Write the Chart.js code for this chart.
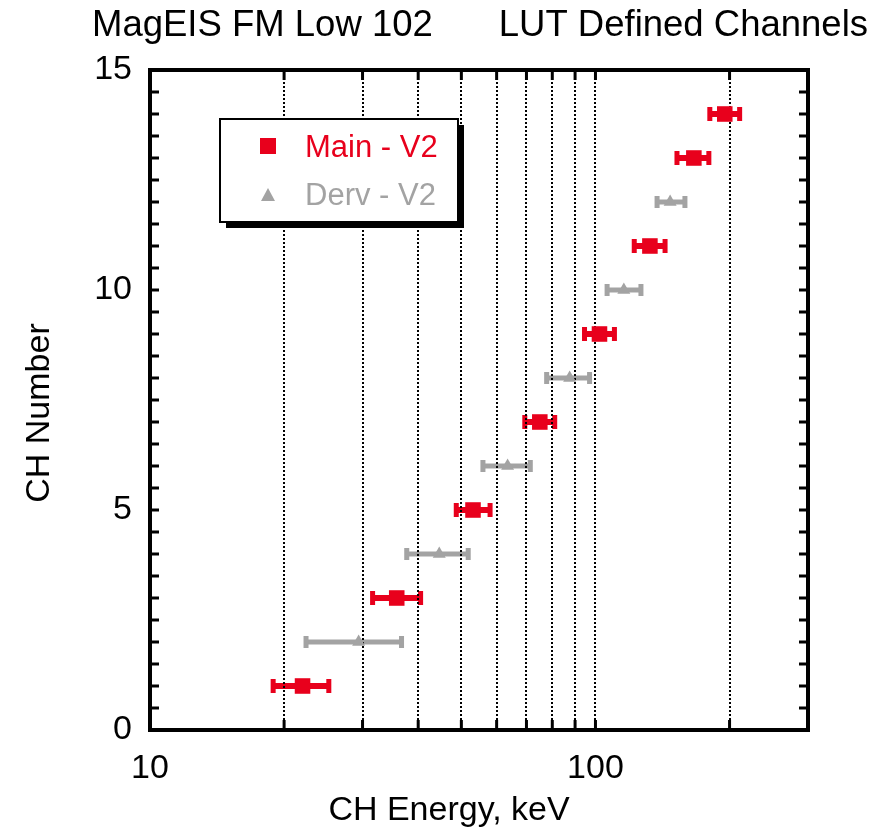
<!DOCTYPE html>
<html><head><meta charset="utf-8">
<script src="https://cdn.jsdelivr.net/npm/chart.js@4"></script>
<style>html,body{margin:0;padding:0;background:#fff}#wrap{width:893px;height:838px;position:relative}canvas{display:block}</style>
</head><body><div id="wrap"><canvas id="c" width="893" height="838" style="width:893px;height:838px"></canvas></div>
<script>
// ---- data ----
const titleLeft = 'MagEIS FM Low 102';
const titleRight = 'LUT Defined Channels';
const xTitle = 'CH Energy, keV';
const yTitle = 'CH Number';

const mainLabel = 'Main - V2';
const mainCh  = [1, 3, 5, 7, 9, 11, 13, 14];
const mainE   = [22.0, 35.8, 53.1, 75.0, 102.1, 132.5, 166.3, 195.1];
const mainLo  = [18.9, 31.6, 48.7, 69.4, 94.5, 122.2, 152.4, 180.6];
const mainHi  = [25.2, 40.5, 58.0, 81.0, 110.3, 143.3, 179.7, 210.7];

const dervLabel = 'Derv - V2';
const dervCh  = [2, 4, 6, 8, 10, 12];
const dervE   = [29.4, 44.6, 63.5, 87.5, 115.8, 147.1];
const dervLo  = [22.4, 37.7, 55.9, 77.7, 106.2, 137.5];
const dervHi  = [36.7, 51.8, 71.4, 97.0, 126.5, 158.8];

const xTickLabels = [10, 100];
const yTickLabels = [0, 5, 10, 15];
const xGridValues = [20, 30, 40, 50, 60, 70, 80, 90, 100, 200];
const yMinorStep = 0.5;

const RED = '#e8001c';
const GRAY = '#a3a3a3';
const FONT = '"Liberation Sans", Arial, sans-serif';

function toPts(xs, ys) { return xs.map((x, i) => ({ x: x, y: ys[i] })); }

const errorBars = {
  id: 'errorBars',
  beforeDatasetsDraw(chart) {
    const ctx = chart.ctx, xs = chart.scales.x, ys = chart.scales.y;
    chart.data.datasets.forEach(ds => {
      ctx.save();
      ctx.strokeStyle = ds.errColor; ctx.fillStyle = ds.errColor;
      ctx.lineWidth = ds.errWidth;
      ds.data.forEach((p, i) => {
        const y = ys.getPixelForValue(p.y);
        const x1 = xs.getPixelForValue(ds.errLo[i]);
        const x2 = xs.getPixelForValue(ds.errHi[i]);
        ctx.beginPath(); ctx.moveTo(x1, y); ctx.lineTo(x2, y); ctx.stroke();
        const ch = ds.capH, cw = ds.capW;
        ctx.fillRect(x1 - cw / 2, y - ch / 2, cw, ch);
        ctx.fillRect(x2 - cw / 2, y - ch / 2, cw, ch);
      });
      ctx.restore();
    });
  }
};

const frame = {
  id: 'frame',
  beforeDatasetsDraw(chart) {
    const ctx = chart.ctx, a = chart.chartArea, xs = chart.scales.x;
    ctx.save();
    ctx.strokeStyle = '#000'; ctx.lineWidth = 2; ctx.setLineDash([2, 2]);
    xGridValues.forEach(v => {
      const x = Math.round(xs.getPixelForValue(v));
      ctx.beginPath(); ctx.moveTo(x, a.top); ctx.lineTo(x, a.bottom); ctx.stroke();
    });
    ctx.restore();
  },
  afterDraw(chart) {
    const ctx = chart.ctx, a = chart.chartArea, xs = chart.scales.x, ys = chart.scales.y;
    ctx.save();
    ctx.strokeStyle = '#000';
    ctx.lineWidth = 3;
    xGridValues.forEach(v => {
      const x = xs.getPixelForValue(v);
      ctx.beginPath(); ctx.moveTo(x, a.bottom); ctx.lineTo(x, a.bottom - 10); ctx.stroke();
      ctx.beginPath(); ctx.moveTo(x, a.top); ctx.lineTo(x, a.top + 10); ctx.stroke();
    });
    for (let v = ys.min + yMinorStep; v < ys.max; v += yMinorStep) {
      const y = ys.getPixelForValue(v);
      ctx.beginPath(); ctx.moveTo(a.left, y); ctx.lineTo(a.left + 9, y); ctx.stroke();
      ctx.beginPath(); ctx.moveTo(a.right, y); ctx.lineTo(a.right - 9, y); ctx.stroke();
    }
    ctx.lineWidth = 4;
    ctx.strokeRect(a.left, a.top, a.right - a.left, a.bottom - a.top);
    // titles
    ctx.fillStyle = '#000';
    ctx.font = '36.5px ' + FONT;
    ctx.textBaseline = 'alphabetic';
    ctx.textAlign = 'left';
    ctx.fillText(titleLeft, 92, 36);
    ctx.textAlign = 'right';
    ctx.fillText(titleRight, 868, 36);
    // axis titles
    ctx.font = '34px ' + FONT;
    ctx.textAlign = 'center'; ctx.textBaseline = 'middle';
    ctx.fillText(xTitle, 449, 811);
    ctx.save();
    ctx.translate(40, 413); ctx.rotate(-Math.PI / 2);
    ctx.fillText(yTitle, 0, 0);
    ctx.restore();
    // legend
    const lx = 220, ly = 119, lw = 238, lh = 103;
    ctx.fillStyle = '#000';
    ctx.fillRect(lx + 6, ly + 6, lw, lh);
    ctx.fillStyle = '#fff';
    ctx.fillRect(lx, ly, lw, lh);
    ctx.lineWidth = 2;
    ctx.strokeRect(lx, ly, lw, lh);
    ctx.fillStyle = RED;
    ctx.fillRect(260, 138, 16, 16);
    ctx.fillStyle = GRAY;
    ctx.beginPath(); ctx.moveTo(268, 188); ctx.lineTo(275, 201); ctx.lineTo(261, 201); ctx.closePath(); ctx.fill();
    ctx.font = '31px ' + FONT;
    ctx.textAlign = 'left'; ctx.textBaseline = 'middle';
    ctx.fillStyle = RED; ctx.fillText(mainLabel, 305, 148);
    ctx.fillStyle = GRAY; ctx.fillText(dervLabel, 305, 196);
    ctx.restore();
  }
};

new Chart(document.getElementById('c'), {
  type: 'scatter',
  data: {
    datasets: [
      { label: dervLabel, data: toPts(dervE, dervCh), errLo: dervLo, errHi: dervHi,
        errColor: GRAY, errWidth: 5, capH: 12, capW: 5,
        pointStyle: 'triangle', radius: 7.5, backgroundColor: GRAY, borderColor: GRAY, borderWidth: 0 },
      { label: mainLabel, data: toPts(mainE, mainCh), errLo: mainLo, errHi: mainHi,
        errColor: RED, errWidth: 6, capH: 14, capW: 5,
        pointStyle: 'rect', radius: 11, backgroundColor: RED, borderColor: RED, borderWidth: 0 }
    ]
  },
  options: {
    responsive: false, maintainAspectRatio: false, animation: false, devicePixelRatio: 1,
    layout: { padding: { left: 0, right: 85, top: 70, bottom: 0 } },
    plugins: { legend: { display: false }, tooltip: { enabled: false }, title: { display: false } },
    scales: {
      x: {
        type: 'logarithmic', min: 10, max: 300,
        grid: { display: false, drawTicks: false },
        border: { display: false },
        afterBuildTicks: s => { s.ticks = xTickLabels.map(v => ({ value: v })); },
        afterFit: s => { s.height = 108; },
        ticks: { color: '#000', font: { family: FONT, size: 34 }, padding: 18, maxRotation: 0, autoSkip: false,
                 callback: v => String(v) },
        title: { display: false }
      },
      y: {
        min: 0, max: 15,
        grid: { display: false, drawTicks: false },
        border: { display: false },
        afterBuildTicks: s => { s.ticks = yTickLabels.map(v => ({ value: v })); },
        afterFit: s => { s.width = 150; },
        ticks: { color: '#000', font: { family: FONT, size: 34 }, padding: 18, autoSkip: false },
        title: { display: false }
      }
    }
  },
  plugins: [errorBars, frame]
});
</script></body></html>
